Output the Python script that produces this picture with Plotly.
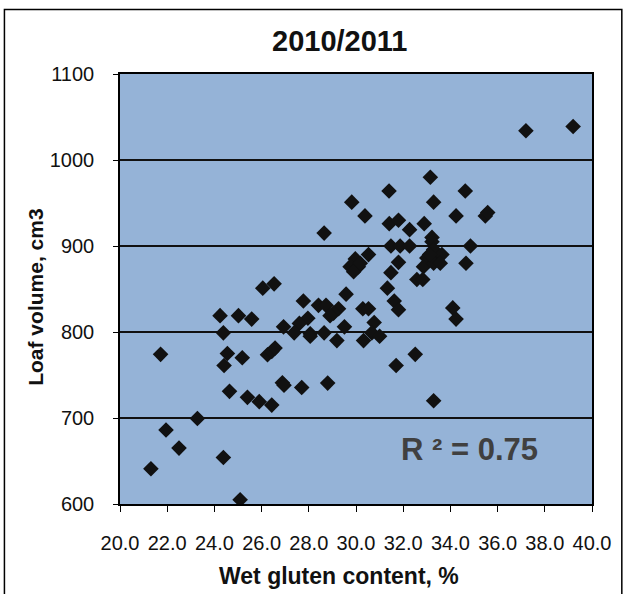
import plotly.graph_objects as go

# Wet gluten content (%) and loaf volume (cm3)
gluten = [37.2, 39.2, 33.15, 31.4, 34.63, 29.82, 33.29, 30.38, 34.24, 35.48,
          35.58, 28.65, 31.41, 31.8, 32.27, 32.89, 33.22, 33.22, 31.48, 31.87,
          32.27, 34.85, 30.53, 29.97, 29.75, 30.1, 29.9, 30.18, 31.8, 31.48,
          33.29, 33.0, 33.43, 33.64, 32.86, 33.29, 33.57, 33.12, 34.66, 32.58,
          32.83, 31.33, 31.62, 31.8, 29.58, 27.77, 28.41, 28.73, 29.26, 29.05,
          28.9, 30.29, 30.53, 30.77, 27.96, 27.6, 26.93, 29.51, 27.38, 28.06,
          28.06, 28.65, 29.19, 30.32, 30.67, 31.0, 32.51, 31.7, 26.05, 26.53,
          26.88, 26.95, 27.7, 28.8, 33.29, 34.1, 34.24, 24.24, 25.02, 25.58,
          24.38, 21.72, 24.55, 25.18, 24.41, 26.25, 26.43, 26.57, 24.64, 25.4,
          25.9, 26.43, 23.28, 21.95, 22.5, 21.31, 24.38, 25.09]
volume = [1034, 1039, 980, 964, 964, 951, 951, 935, 935, 935,
          939, 915, 926, 930, 919, 926, 910, 905, 900, 900,
          900, 900, 890, 885, 876, 876, 870, 880, 881, 869,
          896, 886, 884, 890, 876, 880, 880, 890, 880, 861,
          861, 851, 836, 826, 844, 836, 831, 831, 827, 822,
          819, 827, 827, 811, 816, 810, 806, 806, 799, 798,
          795, 799, 790, 790, 799, 795, 774, 761, 851, 856,
          741, 738, 735.5, 740.6, 720, 828, 815, 819, 819, 815,
          799, 774, 775, 770, 761, 773.5, 777.4, 781.3, 731, 724,
          719, 715, 699.5, 686, 665, 641, 654, 605]

title_text = "2010/2011"
x_title = "Wet gluten content, %"
y_title = "Loaf volume, cm3"
r2_text = "R ² = 0.75"
x_ticks = [20.0, 22.0, 24.0, 26.0, 28.0, 30.0, 32.0, 34.0, 36.0, 38.0, 40.0]
y_ticks = [600, 700, 800, 900, 1000, 1100]

W, H = 626, 594
L, R, T, B = 120, 591.7, 74, 504.3
pw, ph = R - L, B - T

def px(x):
    return (x - L) / pw

def py(y):
    return (B - y) / ph

fig = go.Figure()
fig.add_trace(go.Scatter(
    x=gluten, y=volume, mode="markers",
    marker=dict(symbol="diamond", size=12, color="#111111",
                line=dict(width=0)),
    showlegend=False, hoverinfo="x+y"))

font = "Liberation Sans, Arial, sans-serif"

fig.update_layout(
    width=W, height=H,
    margin=dict(l=L, r=W - R, t=T, b=H - B, pad=0),
    paper_bgcolor="white",
    plot_bgcolor="#95B3D7",
    font=dict(family=font, size=20, color="#111111"),
    xaxis=dict(range=[20, 40], tickvals=x_ticks,
               ticktext=[f"{v:.1f}" for v in x_ticks],
               showgrid=False, zeroline=False,
               showline=True, linecolor="black", linewidth=1.5, mirror=True,
               ticks="outside", ticklen=6, tickcolor="black", tickwidth=1.2,
               ticklabelstandoff=14,
               tickfont=dict(size=20, family=font, color="#111111")),
    yaxis=dict(range=[600, 1100], tickvals=y_ticks,
               showgrid=True, gridcolor="#111111", gridwidth=1.5,
               zeroline=False,
               showline=True, linecolor="black", linewidth=1.5, mirror=True,
               ticks="outside", ticklen=5, tickcolor="black", tickwidth=1.2,
               ticklabelstandoff=15,
               tickfont=dict(size=20, family=font, color="#111111")),
)

annotations = [
    dict(text=f"<b>{title_text}</b>", x=px(339), y=py(41), xref="paper", yref="paper",
         showarrow=False, font=dict(size=29, family=font, color="#111111"),
         xanchor="center", yanchor="middle"),
    dict(text=f"<b>{x_title}</b>", x=px(339), y=py(576), xref="paper", yref="paper",
         showarrow=False, font=dict(size=23, family=font, color="#111111"),
         xanchor="center", yanchor="middle"),
    dict(text=f"<b>{y_title}</b>", x=px(36), y=py(297), xref="paper", yref="paper",
         showarrow=False, textangle=-90, font=dict(size=21, family=font, color="#111111"),
         xanchor="center", yanchor="middle"),
    dict(text=f"<b>{r2_text}</b>", x=px(469), y=py(450), xref="paper", yref="paper",
         showarrow=False, font=dict(size=31, family=font, color="#404040"),
         xanchor="center", yanchor="middle"),
]
fig.update_layout(annotations=annotations)

# outer chart frame
fig.add_shape(type="rect", xref="paper", yref="paper",
              x0=px(4.5), x1=px(621.5), y0=py(640), y1=py(9.5),
              line=dict(color="black", width=1.5), fillcolor="rgba(0,0,0,0)",
              layer="above")

fig.write_html("out.html",
               config={"displayModeBar": False},
               post_script="document.body.style.margin='0';"
                           "document.body.style.overflow='hidden';")
